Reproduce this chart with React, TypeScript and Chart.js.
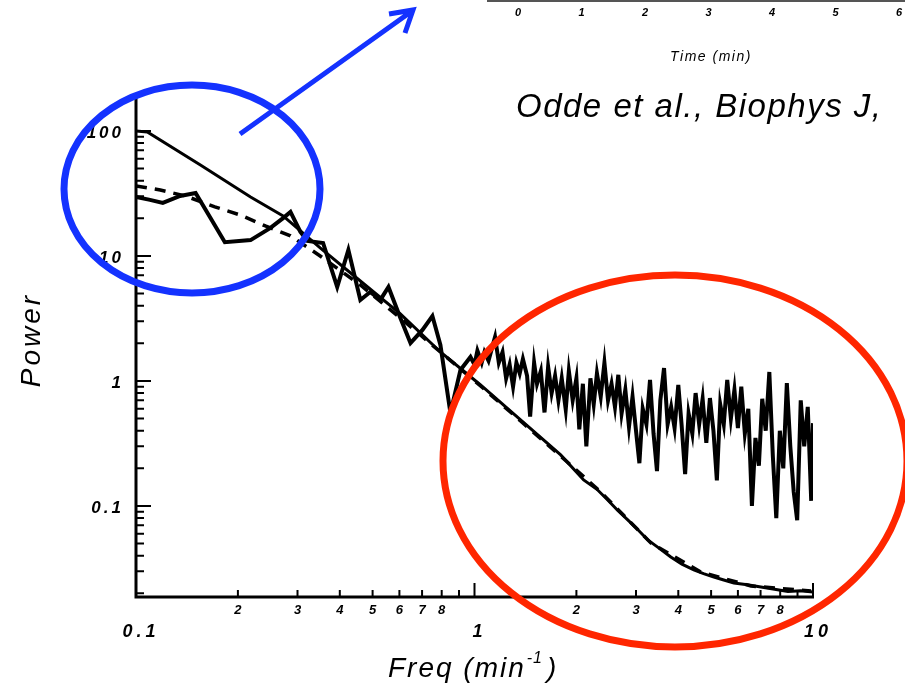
import React, { useEffect, useRef } from "react";
import { Chart, registerables } from "chart.js";

Chart.register(...registerables);

// Noisy measured spectrum (solid, jagged)
const freqData = [0.1, 0.11, 0.12, 0.135, 0.15, 0.166, 0.183, 0.218, 0.249, 0.272, 0.286, 0.306, 0.321, 0.357, 0.393, 0.424, 0.46, 0.492, 0.527, 0.557, 0.604, 0.647, 0.702, 0.751, 0.793, 0.849, 0.909, 0.973,
  1.0, 1.02, 1.05, 1.07, 1.1, 1.13, 1.15, 1.18, 1.21, 1.24, 1.27, 1.3, 1.33, 1.36, 1.39, 1.43, 1.46, 1.5, 1.53, 1.57, 1.61, 1.65, 1.69, 1.73, 1.77, 1.81, 1.86, 1.9, 1.95, 2.0,
  2.04, 2.09, 2.14, 2.2, 2.25, 2.3, 2.36, 2.42, 2.48, 2.54, 2.6, 2.66, 2.72, 2.79, 2.86, 2.93, 3.0, 3.07, 3.14, 3.22, 3.3, 3.38, 3.46, 3.54, 3.63, 3.72, 3.81, 3.9, 4.0,
  4.09, 4.19, 4.29, 4.4, 4.5, 4.61, 4.72, 4.84, 4.96, 5.08, 5.2, 5.32, 5.45, 5.58, 5.72, 5.86, 6.0, 6.14, 6.29, 6.44, 6.6, 6.76, 6.92, 7.08, 7.25, 7.43, 7.61, 7.79, 7.98,
  8.17, 8.37, 8.57, 8.77, 8.98, 9.2, 9.42, 9.65, 9.88, 10.0];
const powerData = [29.6, 28.1, 26.6, 30.2, 31.9, 20.1, 12.9, 13.4, 16.7, 20.1, 22.5, 15.6, 13.2, 12.7, 5.65, 11.2, 4.45, 5.15, 4.45, 5.65, 3.19, 2.01, 2.56, 3.31, 1.94, 0.555, 1.225, 1.556,
  1.35, 1.75, 1.4, 1.7, 1.45, 1.9, 2.25, 1.4, 1.7, 1.05, 1.35, 0.9, 1.4, 1.15, 1.5, 1.1, 0.52, 1.4, 0.95, 1.2, 0.56, 1.3, 0.8, 1.1, 0.7, 1.05, 0.59, 1.2, 0.7, 1.05,
  0.41, 0.95, 0.3, 1.05, 0.65, 1.15, 0.75, 1.4, 0.7, 0.95, 0.62, 1.12, 0.55, 0.85, 0.43, 0.75, 0.4, 0.22, 0.6, 0.45, 1.02, 0.38, 0.19, 0.7, 1.27, 0.45, 0.62, 0.42, 0.93,
  0.45, 0.18, 0.55, 0.38, 0.8, 0.45, 0.72, 0.32, 0.73, 0.4, 0.16, 0.65, 0.45, 1.02, 0.5, 0.85, 0.42, 0.9, 0.38, 0.6, 0.1, 0.35, 0.21, 0.72, 0.4, 1.18, 0.25, 0.08, 0.4,
  0.2, 0.96, 0.3, 0.13, 0.077, 0.7, 0.3, 0.62, 0.11, 0.46];

// Smooth simulated spectrum (solid)
const freqSim = [0.1, 0.108, 0.155, 0.218, 0.272, 0.35, 0.46, 0.604, 0.793, 1.042, 1.368, 1.797, 2.101, 2.3, 2.475, 2.65, 2.836, 3.05, 3.25, 3.5, 3.801, 4.1, 4.445, 4.75, 5.096, 5.45, 5.84, 6.4, 7.016, 7.7, 8.433, 9.2, 10];
const powerSim = [100, 98, 53.5, 29.6, 20.9, 11.6, 6.31, 3.44, 1.706, 0.929, 0.488, 0.256, 0.1615, 0.136, 0.1117, 0.092, 0.0773, 0.064, 0.0535, 0.0462, 0.0391, 0.0342, 0.0308, 0.0288, 0.027, 0.0256, 0.0242, 0.0234, 0.0225, 0.0216, 0.0207, 0.021, 0.0205];

// Dashed model fit
const freqFit = [0.1, 0.118, 0.14, 0.171, 0.203, 0.241, 0.286, 0.35, 0.46, 0.604, 0.793, 1.042, 1.368, 1.797, 2.36, 3.318, 4.66, 6.556, 9.87];
const powerFit = [36.3, 33.7, 30.2, 24.7, 21.3, 17.4, 14.5, 10, 5.86, 3.19, 1.706, 0.912, 0.479, 0.251, 0.1294, 0.0506, 0.0296, 0.0229, 0.0209];

const xMin = 0.1;
const xMax = 10;
const yMin = 0.0187;
const yMax = 187;

const yMajorTicks = [100, 10, 1, 0.1];
const yMajorLabels = ["100", "10", "1", "0.1"];
const xMajorTicks = [0.1, 1, 10];
const xMajorLabels = ["0.1", "1", "10"];
const xMinorMultipliers = [2, 3, 4, 5, 6, 7, 8];
const xMinorLabels = ["2", "3", "4", "5", "6", "7", "8"];
const insetTimeLabels = ["0", "1", "2", "3", "4", "5", "6"];

const xTitleMain = "Freq (min";
const xTitleSup = "-1";
const xTitleEnd = ")";
const yTitle = "Power";
const citation = "Odde et al., Biophys J,";
const insetTitle = "Time (min)";

const FONT = '"Liberation Sans", Arial, sans-serif';

const decorPlugin = {
  id: "decor",
  afterDraw(chart: any) {
    const ctx: CanvasRenderingContext2D = chart.ctx;
    const xs = chart.scales.x;
    const ys = chart.scales.y;
    const L = xs.left;
    const R = xs.right;
    const T = ys.top;
    const B = ys.bottom;
    ctx.save();
    ctx.strokeStyle = "#000";
    ctx.fillStyle = "#000";
    ctx.lineCap = "butt";

    // axes
    ctx.lineWidth = 3;
    ctx.beginPath();
    ctx.moveTo(L, T);
    ctx.lineTo(L, B + 1.5);
    ctx.moveTo(L - 1.5, B);
    ctx.lineTo(R + 1, B);
    ctx.stroke();

    // y ticks
    ctx.lineWidth = 2;
    ctx.beginPath();
    for (let e = -2; e <= 2; e++) {
      for (let m = 1; m <= 9; m++) {
        const v = m * Math.pow(10, e);
        if (v < yMin || v > yMax) continue;
        const py = ys.getPixelForValue(v);
        const len = m === 1 ? 15 : 8;
        ctx.moveTo(L, py);
        ctx.lineTo(L + len, py);
      }
    }
    // x ticks
    for (let e = -1; e <= 1; e++) {
      for (let m = 1; m <= 9; m++) {
        const v = m * Math.pow(10, e);
        if (v <= xMin * 1.001 || v > xMax * 1.001) continue;
        const px = xs.getPixelForValue(v);
        const len = m === 1 ? 14 : 7;
        ctx.moveTo(px, B);
        ctx.lineTo(px, B - len);
      }
    }
    ctx.stroke();

    // y labels
    ctx.font = `italic bold 17px ${FONT}`;
    (ctx as any).letterSpacing = "3px";
    ctx.textAlign = "right";
    ctx.textBaseline = "middle";
    yMajorTicks.forEach((v, i) => {
      ctx.fillText(yMajorLabels[i], L - 12, ys.getPixelForValue(v) + 2);
    });

    // x major labels
    ctx.font = `italic bold 18px ${FONT}`;
    (ctx as any).letterSpacing = "4px";
    ctx.textAlign = "center";
    xMajorTicks.forEach((v, i) => {
      ctx.fillText(xMajorLabels[i], xs.getPixelForValue(v) + 5, B + 35);
    });

    // x minor labels
    ctx.font = `italic bold 13px ${FONT}`;
    (ctx as any).letterSpacing = "0px";
    [0.1, 1].forEach((dec) => {
      xMinorMultipliers.forEach((m, i) => {
        ctx.fillText(xMinorLabels[i], xs.getPixelForValue(m * dec), B + 13);
      });
    });

    // axis titles
    ctx.font = `italic 28px ${FONT}`;
    (ctx as any).letterSpacing = "2px";
    ctx.textAlign = "left";
    ctx.textBaseline = "alphabetic";
    const tx = 388;
    const tb = 677;
    ctx.fillText(xTitleMain, tx, tb);
    const w1 = ctx.measureText(xTitleMain).width;
    ctx.font = `italic 16px ${FONT}`;
    (ctx as any).letterSpacing = "1px";
    ctx.fillText(xTitleSup, tx + w1 + 1, tb - 14);
    const w2 = ctx.measureText(xTitleSup).width;
    ctx.font = `italic 28px ${FONT}`;
    ctx.fillText(xTitleEnd, tx + w1 + w2 + 5, tb);

    ctx.save();
    ctx.translate(40, 340);
    ctx.rotate(-Math.PI / 2);
    ctx.textAlign = "center";
    (ctx as any).letterSpacing = "3px";
    ctx.fillText(yTitle, 0, 0);
    ctx.restore();

    // inset remnants at top
    ctx.strokeStyle = "#555";
    ctx.lineWidth = 2;
    ctx.beginPath();
    ctx.moveTo(487, 1);
    ctx.lineTo(905, 1);
    ctx.stroke();
    ctx.font = `italic bold 11px ${FONT}`;
    (ctx as any).letterSpacing = "0px";
    ctx.textAlign = "center";
    ctx.textBaseline = "middle";
    insetTimeLabels.forEach((s, i) => {
      ctx.fillText(s, 518 + i * 63.5, 13);
    });
    ctx.font = `italic 14px ${FONT}`;
    (ctx as any).letterSpacing = "1.5px";
    ctx.textBaseline = "alphabetic";
    ctx.fillText(insetTitle, 711, 61);

    // citation
    ctx.font = `italic 33px ${FONT}`;
    (ctx as any).letterSpacing = "1.5px";
    ctx.textAlign = "left";
    ctx.fillText(citation, 516, 117);
    (ctx as any).letterSpacing = "0px";

    // blue ellipse + arrow
    ctx.strokeStyle = "#1432ff";
    ctx.lineWidth = 7;
    ctx.beginPath();
    ctx.ellipse(192, 189, 128, 104, 0, 0, Math.PI * 2);
    ctx.stroke();
    ctx.lineWidth = 5;
    ctx.beginPath();
    ctx.moveTo(240, 134);
    ctx.lineTo(412, 11);
    ctx.moveTo(389, 14);
    ctx.lineTo(413, 10);
    ctx.lineTo(405, 33);
    ctx.stroke();

    // red ellipse
    ctx.strokeStyle = "#ff2600";
    ctx.lineWidth = 7;
    ctx.beginPath();
    ctx.ellipse(675, 461, 232, 186, 0, 0, Math.PI * 2);
    ctx.stroke();

    ctx.restore();
  },
};

export default function App() {
  const ref = useRef<HTMLCanvasElement | null>(null);
  useEffect(() => {
    document.body.style.margin = "0";
    const canvas = ref.current;
    if (!canvas) return;
    const toPts = (xa: number[], ya: number[]) => xa.map((x, i) => ({ x, y: ya[i] }));
    const chart = new Chart(canvas, {
      type: "scatter",
      data: {
        datasets: [
          {
            label: "data",
            data: toPts(freqData, powerData),
            showLine: true,
            borderColor: "#000",
            borderWidth: 4,
            pointRadius: 0,
            tension: 0,
          },
          {
            label: "sim",
            data: toPts(freqSim, powerSim),
            showLine: true,
            borderColor: "#000",
            borderWidth: 3,
            pointRadius: 0,
            tension: 0,
          },
          {
            label: "fit",
            data: toPts(freqFit, powerFit),
            showLine: true,
            borderColor: "#000",
            borderWidth: 3.5,
            borderDash: [11, 8],
            pointRadius: 0,
            tension: 0,
          },
        ],
      },
      options: {
        responsive: false,
        animation: false,
        devicePixelRatio: 1,
        layout: { padding: { left: 136, top: 97, right: 92, bottom: 89 } },
        scales: {
          x: { type: "logarithmic", min: xMin, max: xMax, display: false },
          y: { type: "logarithmic", min: yMin, max: yMax, display: false },
        },
        plugins: { legend: { display: false }, tooltip: { enabled: false } },
        elements: { line: { borderJoinStyle: "miter" } },
      },
      plugins: [decorPlugin],
    } as any);
    return () => chart.destroy();
  }, []);
  return (
    <div style={{ width: 905, height: 686, background: "#fff" }}>
      <canvas ref={ref} width={905} height={686} style={{ display: "block" }} />
    </div>
  );
}
